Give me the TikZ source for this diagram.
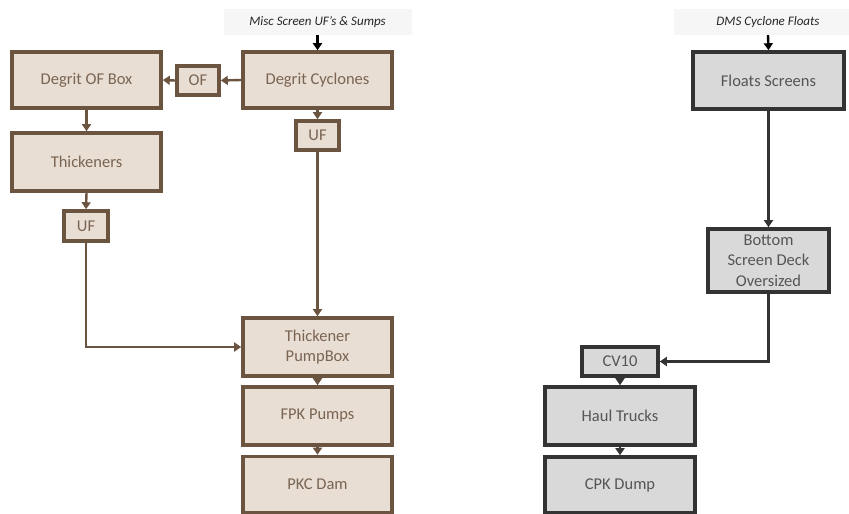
\documentclass[tikz,border=0pt]{standalone}
\usepackage{fontspec}
\setmainfont{Carlito}
\usetikzlibrary{arrows.meta}
\definecolor{bfill}{HTML}{E8DED4}
\definecolor{bline}{HTML}{6B5540}
\definecolor{btext}{HTML}{7A6452}
\definecolor{gfill}{HTML}{D9D9D9}
\definecolor{gline}{HTML}{333333}
\definecolor{gtext}{HTML}{555555}
\definecolor{lblfill}{HTML}{F6F6F6}
\tikzset{
  bbox/.style={draw=bline, fill=bfill, line width=3.6pt, text=btext, inner sep=0pt, align=center, font=\fontsize{16.5}{20.5}\selectfont},
  gbox/.style={draw=gline, fill=gfill, line width=3.6pt, text=gtext, inner sep=0pt, align=center, font=\fontsize{16.5}{20.5}\selectfont},
  lbl/.style={fill=lblfill, inner sep=0pt, minimum width=188pt, minimum height=26pt, font=\fontsize{13}{15}\selectfont\itshape, text=black!85},
  barr/.style={draw=bline, line width=2.4pt, -{Triangle[length=7pt,width=9pt]}},
  garr/.style={draw=gline, line width=2.4pt, -{Triangle[length=7pt,width=9pt]}},
  karr/.style={draw=black, line width=2.4pt, -{Triangle[length=7pt,width=9pt]}}
}
\begin{document}
\begin{tikzpicture}[x=1pt,y=-1pt]
\useasboundingbox (0,0) rectangle (849,514);
% left chain
\node[lbl] (misc) at (317.5,22) {Misc Screen UF’s \& Sumps};
\node[bbox, minimum width=149pt, minimum height=56pt] (dob) at (86.5,80) {Degrit OF Box};
\node[bbox, minimum width=149pt, minimum height=58pt] (thk) at (86.5,162) {Thickeners};
\node[bbox, minimum width=42pt, minimum height=29pt] (of) at (198,80.5) {OF};
\node[bbox, minimum width=149pt, minimum height=56pt] (dc) at (317.5,80) {Degrit Cyclones};
\node[bbox, minimum width=43pt, minimum height=29pt] (uf2) at (317.5,135.5) {UF};
\node[bbox, minimum width=44pt, minimum height=30pt] (uf1) at (86,226) {UF};
\node[bbox, minimum width=149pt, minimum height=58pt] (tpb) at (317.5,347) {Thickener\\PumpBox};
\node[bbox, minimum width=149pt, minimum height=58pt] (fpk) at (317.5,416) {FPK Pumps};
\node[bbox, minimum width=149pt, minimum height=56pt] (pkc) at (317.5,484.5) {PKC Dam};
% right chain
\node[lbl] (dms) at (768,22) {DMS Cyclone Floats};
\node[gbox, minimum width=151pt, minimum height=57pt] (fs) at (768.5,80.5) {Floats Screens};
\node[gbox, minimum width=121pt, minimum height=63pt] (bsd) at (768.5,260.5) {Bottom\\Screen Deck\\Oversized};
\node[gbox, minimum width=76pt, minimum height=29pt] (cv) at (620,361.5) {CV10};
\node[gbox, minimum width=150pt, minimum height=58pt] (ht) at (620,416) {Haul Trucks};
\node[gbox, minimum width=150pt, minimum height=56pt] (cpk) at (620,485) {CPK Dump};
% connectors left
\draw[karr] (misc.south) -- (dc.north);
\draw[barr] (dc.west) -- (of.east);
\draw[barr] (of.west) -- (dob.east);
\draw[barr] (dob.south) -- (thk.north);
\draw[barr] (thk.south) -- (uf1.north);
\draw[barr] (dc.south) -- (uf2.north);
\draw[barr] (uf2.south) -- (tpb.north);
\draw[barr] (uf1.south) |- (tpb.west);
\draw[barr] (tpb.south) -- (fpk.north);
\draw[barr] (fpk.south) -- (pkc.north);
% connectors right
\draw[karr] (dms.south) -- (fs.north);
\draw[garr] (fs.south) -- (bsd.north);
\draw[garr] (bsd.south) |- (cv.east);
\draw[garr] (cv.south) -- (ht.north);
\draw[garr] (ht.south) -- (cpk.north);
\end{tikzpicture}
\end{document}
